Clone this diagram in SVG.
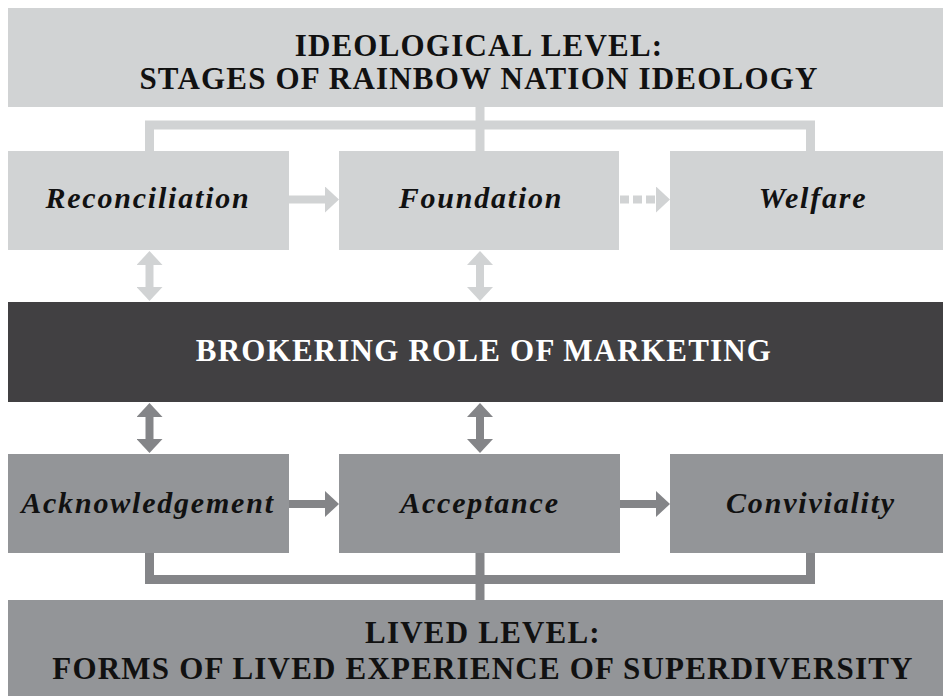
<svg xmlns="http://www.w3.org/2000/svg" width="943" height="696" viewBox="0 0 943 696">
  <style>
    .light { fill: #d1d3d4; }
    .dark { fill: #414042; }
    .mid { fill: #939598; }
    .head { font-family: "Liberation Serif", "Times New Roman", serif; font-weight: bold; font-size: 31px; letter-spacing: 1.2px; text-anchor: middle; }
    .stage { font-family: "Liberation Serif", "Times New Roman", serif; font-weight: bold; font-style: italic; font-size: 30px; letter-spacing: 1.8px; text-anchor: middle; fill: #111111; }
    .lconn { stroke: #d1d3d4; fill: none; }
    .dconn { stroke: #848588; fill: none; }
  </style>
  <defs>
    <marker id="hl" markerUnits="userSpaceOnUse" markerWidth="14" markerHeight="26" refX="0" refY="13" orient="auto-start-reverse">
      <path d="M0,0 L14,13 L0,26 z" fill="#d1d3d4"/>
    </marker>
    <marker id="hd" markerUnits="userSpaceOnUse" markerWidth="14" markerHeight="26" refX="0" refY="13" orient="auto-start-reverse">
      <path d="M0,0 L14,13 L0,26 z" fill="#848588"/>
    </marker>
  </defs>

  <g id="connectors">
    <!-- upper tree -->
    <path class="lconn" stroke-width="9" d="M149.5,151 V125 H810.5 V151 M480,107 V151"/>
    <!-- lower tree -->
    <path class="dconn" stroke-width="9" d="M149.5,553 V579.5 H810.5 V553 M480,553 V600"/>
    <!-- row 1 arrows -->
    <line class="lconn" stroke-width="8" x1="289" y1="199.5" x2="325" y2="199.5" marker-end="url(#hl)"/>
    <line class="lconn" stroke-width="8" stroke-dasharray="9 4" x1="620" y1="199.5" x2="656" y2="199.5" marker-end="url(#hl)"/>
    <!-- row 2 arrows -->
    <line class="dconn" stroke-width="8" x1="289" y1="504" x2="325" y2="504" marker-end="url(#hd)"/>
    <line class="dconn" stroke-width="8" x1="620" y1="504" x2="656" y2="504" marker-end="url(#hd)"/>
    <!-- upper two-way arrows -->
    <line class="lconn" stroke-width="8" x1="149.5" y1="265" x2="149.5" y2="287" marker-start="url(#hl)" marker-end="url(#hl)"/>
    <line class="lconn" stroke-width="8" x1="480" y1="265" x2="480" y2="287" marker-start="url(#hl)" marker-end="url(#hl)"/>
    <!-- lower two-way arrows -->
    <line class="dconn" stroke-width="8" x1="149.5" y1="417" x2="149.5" y2="439" marker-start="url(#hd)" marker-end="url(#hd)"/>
    <line class="dconn" stroke-width="8" x1="480" y1="417" x2="480" y2="439" marker-start="url(#hd)" marker-end="url(#hd)"/>
  </g>

  <g id="ideological">
    <rect class="light" x="8" y="8" width="945" height="99"/>
    <text class="head" fill="#111111" x="479" y="56">IDEOLOGICAL LEVEL:</text>
    <text class="head" fill="#111111" x="479" y="89">STAGES OF RAINBOW NATION IDEOLOGY</text>
  </g>

  <g id="reconciliation">
    <rect class="light" x="8" y="151" width="281" height="99"/>
    <text class="stage" x="148" y="208">Reconciliation</text>
  </g>
  <g id="foundation">
    <rect class="light" x="339" y="151" width="280" height="99"/>
    <text class="stage" x="481" y="208">Foundation</text>
  </g>
  <g id="welfare">
    <rect class="light" x="670" y="151" width="283" height="99"/>
    <text class="stage" x="813" y="208">Welfare</text>
  </g>

  <g id="brokering">
    <rect class="dark" x="8" y="302" width="945" height="100"/>
    <text class="head" fill="#ffffff" x="484" y="361">BROKERING ROLE OF MARKETING</text>
  </g>

  <g id="acknowledgement">
    <rect class="mid" x="8" y="454" width="281" height="99"/>
    <text class="stage" x="148" y="513">Acknowledgement</text>
  </g>
  <g id="acceptance">
    <rect class="mid" x="339" y="454" width="281" height="99"/>
    <text class="stage" x="480" y="513">Acceptance</text>
  </g>
  <g id="conviviality">
    <rect class="mid" x="670" y="454" width="283" height="99"/>
    <text class="stage" x="811" y="513">Conviviality</text>
  </g>

  <g id="lived">
    <rect class="mid" x="8" y="600" width="945" height="100"/>
    <text class="head" fill="#111111" x="483" y="643">LIVED LEVEL:</text>
    <text class="head" fill="#111111" x="483" y="679">FORMS OF LIVED EXPERIENCE OF SUPERDIVERSITY</text>
  </g>
</svg>
